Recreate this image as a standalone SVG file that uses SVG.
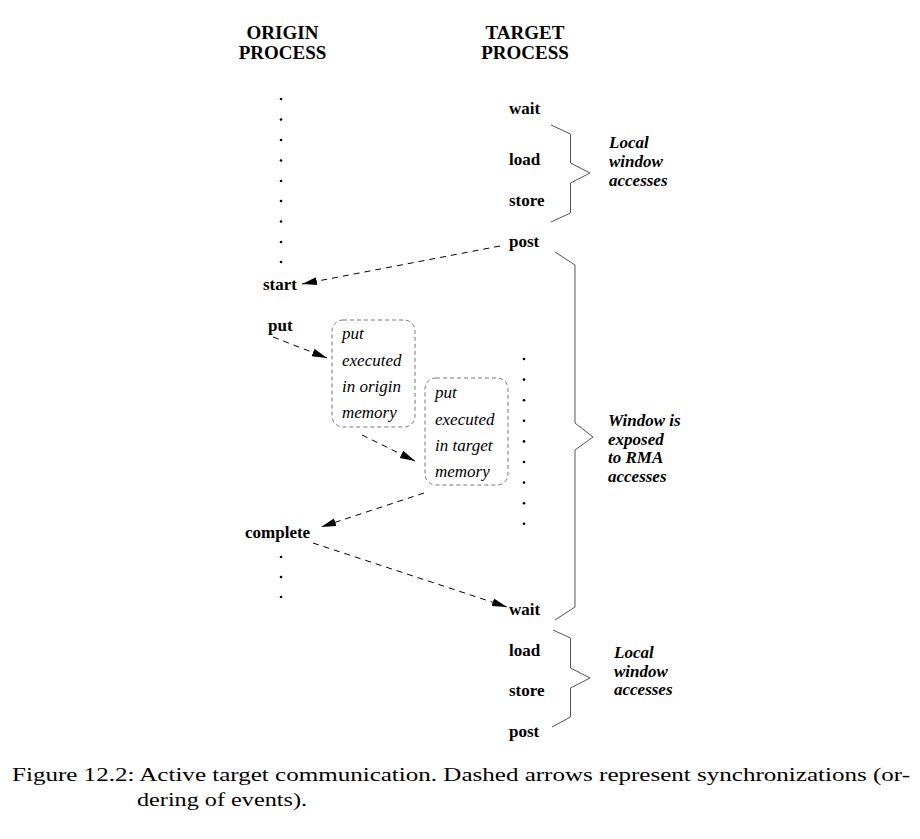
<svg xmlns="http://www.w3.org/2000/svg" width="920" height="839" viewBox="0 0 920 839">
<style>
text{font-family:"Liberation Serif",serif;fill:#000}
.hd{font-size:19px;font-weight:bold;text-anchor:middle}
.lb{font-size:17px;font-weight:bold}
.it{font-size:17px;font-style:italic}
.bi{font-size:17px;font-weight:bold;font-style:italic}
.cap{font-size:19.5px}
.dash{fill:none;stroke:#000;stroke-width:1;stroke-dasharray:6,5}
.box{fill:none;stroke:#666;stroke-width:0.9;stroke-dasharray:4,3}
.brace{fill:none;stroke:#555;stroke-width:1}
.dot{fill:#000}
</style>
<defs>
<marker id="ah" markerWidth="16" markerHeight="10" refX="15" refY="5" orient="auto" markerUnits="userSpaceOnUse">
<path d="M0,1 L15,5 L0,9 Z" fill="#000"/>
</marker>
</defs>
<rect width="920" height="839" fill="#fff"/>
<g id="header-origin">
<text class="hd" x="282.5" y="39">ORIGIN</text>
<text class="hd" x="282.5" y="59">PROCESS</text>
</g>
<g id="header-target">
<text class="hd" x="525" y="39">TARGET</text>
<text class="hd" x="525" y="59">PROCESS</text>
</g>
<g id="origin-dots-top" class="dot">
<circle cx="281" cy="99" r="1.3"/><circle cx="281" cy="119.5" r="1.3"/><circle cx="281" cy="140" r="1.3"/>
<circle cx="281" cy="160.5" r="1.3"/><circle cx="281" cy="181" r="1.3"/><circle cx="281" cy="201" r="1.3"/>
<circle cx="281" cy="221.5" r="1.3"/><circle cx="281" cy="242" r="1.3"/><circle cx="281" cy="262" r="1.3"/>
</g>
<g id="origin-start"><text class="lb" x="263" y="290">start</text></g>
<g id="origin-put"><text class="lb" x="268" y="331">put</text></g>
<g id="origin-complete"><text class="lb" x="245" y="538">complete</text></g>
<g id="origin-dots-bottom" class="dot">
<circle cx="281" cy="557" r="1.3"/><circle cx="281" cy="577" r="1.3"/><circle cx="281" cy="597" r="1.3"/>
</g>
<g id="box-origin">
<rect class="box" x="332" y="320" width="83" height="107" rx="11"/>
<text class="it" x="342" y="339">put</text>
<text class="it" x="342" y="366">executed</text>
<text class="it" x="342" y="392">in origin</text>
<text class="it" x="342" y="418">memory</text>
</g>
<g id="box-target">
<rect class="box" x="425" y="378" width="83" height="107" rx="11"/>
<text class="it" x="435" y="398">put</text>
<text class="it" x="435" y="425">executed</text>
<text class="it" x="435" y="451">in target</text>
<text class="it" x="435" y="477">memory</text>
</g>
<g id="target-dots" class="dot">
<circle cx="524" cy="359" r="1.3"/><circle cx="524" cy="379.6" r="1.3"/><circle cx="524" cy="400.2" r="1.3"/>
<circle cx="524" cy="420.8" r="1.3"/><circle cx="524" cy="441.4" r="1.3"/><circle cx="524" cy="462" r="1.3"/>
<circle cx="524" cy="482.6" r="1.3"/><circle cx="524" cy="503.2" r="1.3"/><circle cx="524" cy="523.8" r="1.3"/>
</g>
<g id="target-top">
<text class="lb" x="509" y="114">wait</text>
<text class="lb" x="509" y="165">load</text>
<text class="lb" x="509" y="206">store</text>
<text class="lb" x="509" y="247">post</text>
</g>
<g id="target-bottom">
<text class="lb" x="509" y="615">wait</text>
<text class="lb" x="509" y="656">load</text>
<text class="lb" x="509" y="696">store</text>
<text class="lb" x="509" y="737">post</text>
</g>
<g id="brace-local-1">
<path class="brace" d="M551,125 L570.5,134 L570.5,163 L590,173 L570.5,183 L570.5,213 L551,222"/>
<text class="bi" x="609" y="148">Local</text>
<text class="bi" x="609" y="167">window</text>
<text class="bi" x="609" y="186">accesses</text>
</g>
<g id="brace-exposed">
<path class="brace" d="M555,252 L575,265 L575,423 L593,437 L575,450 L575,607 L555,620"/>
<text class="bi" x="608" y="426">Window is</text>
<text class="bi" x="608" y="444.5">exposed</text>
<text class="bi" x="608" y="463">to RMA</text>
<text class="bi" x="608" y="481.5">accesses</text>
</g>
<g id="brace-local-2">
<path class="brace" d="M553,630 L570.5,638 L570.5,668 L590,678 L570.5,688 L570.5,717 L552,727"/>
<text class="bi" x="614" y="658">Local</text>
<text class="bi" x="614" y="676.5">window</text>
<text class="bi" x="614" y="695">accesses</text>
</g>
<g id="connectors">
<line class="dash" x1="500" y1="246" x2="302" y2="284" marker-end="url(#ah)"/>
<line class="dash" x1="273" y1="337" x2="327" y2="358" marker-end="url(#ah)"/>
<line class="dash" x1="362" y1="435" x2="415" y2="461" marker-end="url(#ah)"/>
<line class="dash" x1="424" y1="493" x2="321" y2="527" marker-end="url(#ah)"/>
<line class="dash" x1="313" y1="543" x2="507" y2="607" marker-end="url(#ah)"/>
</g>
<g id="caption">
<text class="cap" x="12" y="781" textLength="898" lengthAdjust="spacingAndGlyphs">Figure 12.2: Active target communication. Dashed arrows represent synchronizations (or-</text>
<text class="cap" x="137" y="806" textLength="170" lengthAdjust="spacingAndGlyphs">dering of events).</text>
</g>
</svg>
